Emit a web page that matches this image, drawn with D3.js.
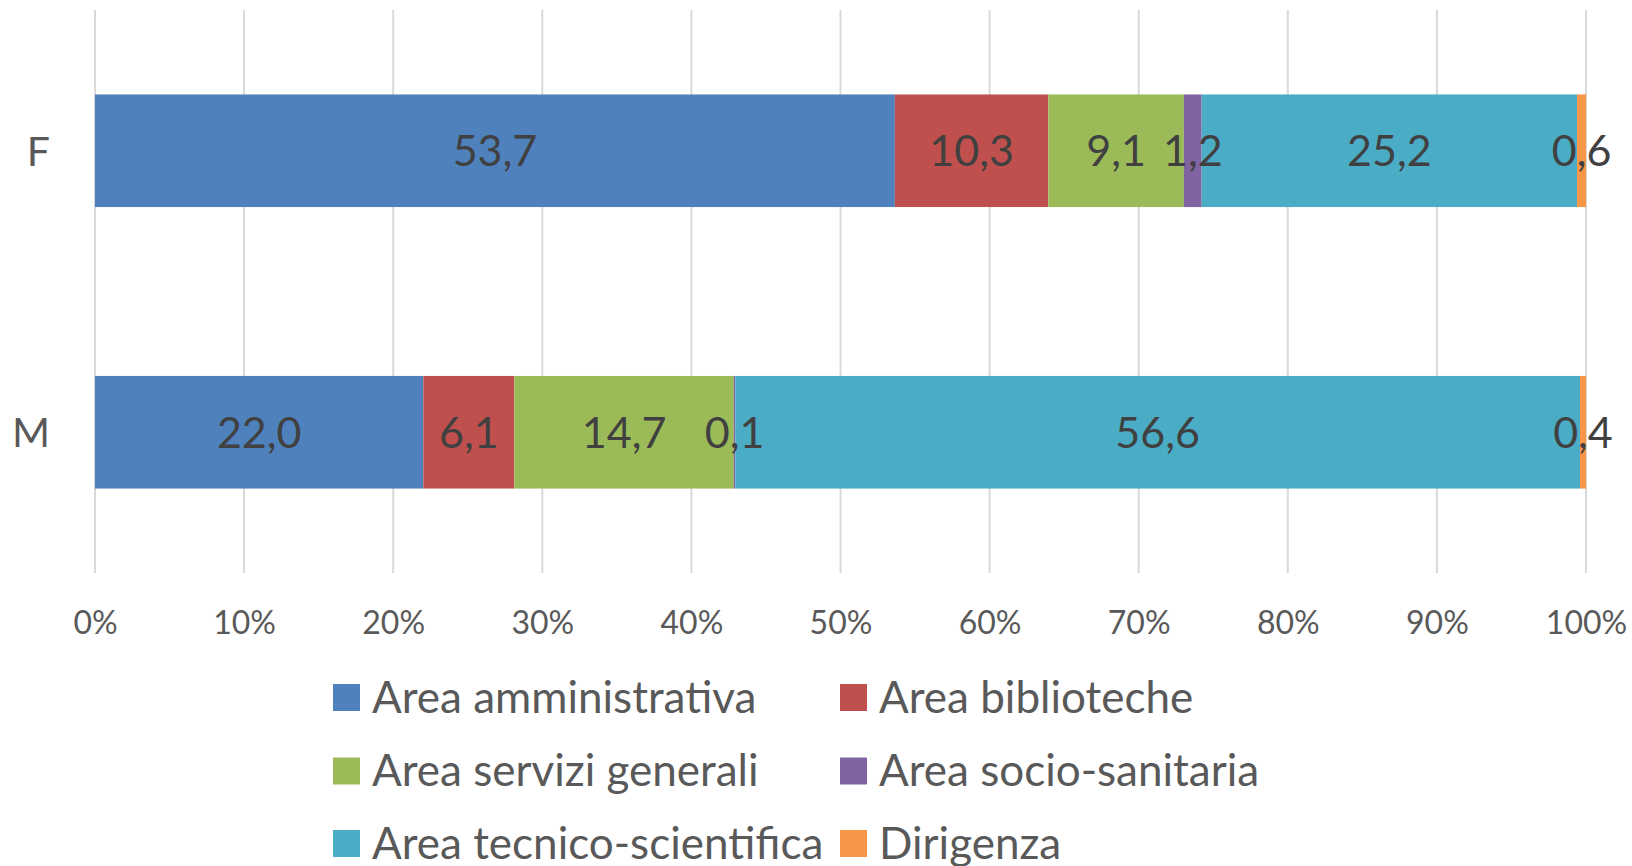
<!DOCTYPE html>
<html>
<head>
<meta charset="utf-8">
<script src="https://cdn.jsdelivr.net/npm/d3@7"></script>
<style>
  body { margin: 0; background: #fff; }
  svg { display: block; font-family: Lato, "Open Sans", sans-serif; }
</style>
</head>
<body>
<div id="chart"></div>
<script>
// data
var categories = ["F", "M"];
var areas = [
  "Area amministrativa",
  "Area biblioteche",
  "Area servizi generali",
  "Area socio-sanitaria",
  "Area tecnico-scientifica",
  "Dirigenza"
];
var valuesF = [53.7, 10.3, 9.1, 1.2, 25.2, 0.6];
var valuesM = [22.0, 6.1, 14.7, 0.1, 56.6, 0.4];
var xTicks = [0, 0.1, 0.2, 0.3, 0.4, 0.5, 0.6, 0.7, 0.8, 0.9, 1];
var colors = ["#4f81bd", "#c0504d", "#9bbb59", "#8064a2", "#4bacc6", "#f79646"];

var width = 1632, height = 866;
var margin = {top: 10, right: 46, bottom: 293, left: 95};

var rows = [valuesF, valuesM].map(function(v, i){
  var r = {cat: categories[i]};
  areas.forEach(function(a, j){ r[a] = v[j]; });
  return r;
});

var series = d3.stack().keys(areas).offset(d3.stackOffsetExpand)(rows);

var x = d3.scaleLinear().domain([0, 1]).range([margin.left, width - margin.right]);
var y = d3.scaleBand().domain(categories)
  .range([margin.top, height - margin.bottom])
  .paddingInner(0.6).paddingOuter(0.3);
var color = d3.scaleOrdinal().domain(areas).range(colors);

var svg = d3.select("#chart").append("svg")
  .attr("width", width).attr("height", height);

// gridlines
svg.append("g")
  .selectAll("line")
  .data(xTicks)
  .enter()
  .append("line")
  .attr("x1", function(d){ return x(d); })
  .attr("x2", function(d){ return x(d); })
  .attr("y1", margin.top)
  .attr("y2", height - margin.bottom)
  .style("stroke", "#d9d9d9")
  .style("stroke-width", 2);

// bars
var layer = svg.append("g")
  .selectAll("g")
  .data(series)
  .enter()
  .append("g")
  .style("fill", function(d){ return color(d.key); });

layer.selectAll("rect")
  .data(function(d){ return d; })
  .enter()
  .append("rect")
  .attr("x", function(d){ return x(d[0]); })
  .attr("y", function(d){ return y(d.data.cat); })
  .attr("width", function(d){ return x(d[1]) - x(d[0]); })
  .attr("height", y.bandwidth());

// data labels
var fmt = function(v){ return v.toFixed(1).replace(".", ","); };
svg.append("g")
  .selectAll("g")
  .data(series)
  .enter()
  .append("g")
  .selectAll("text")
  .data(function(s){
    return s.map(function(d){ return {d: d, v: d.data[s.key]}; });
  })
  .enter()
  .append("text")
  .attr("x", function(o){ return (x(o.d[0]) + x(o.d[1])) / 2; })
  .attr("y", function(o){ return y(o.d.data.cat) + y.bandwidth() / 2; })
  .attr("dy", "0.36em")
  .attr("text-anchor", "middle")
  .style("font-size", "43px")
  .style("fill", "#404040")
  .text(function(o){ return fmt(o.v); });

// category axis
svg.append("g")
  .selectAll("text")
  .data(categories)
  .enter()
  .append("text")
  .attr("x", 50)
  .attr("y", function(d){ return y(d) + y.bandwidth() / 2; })
  .attr("dy", "0.36em")
  .attr("text-anchor", "end")
  .style("font-size", "41px")
  .style("fill", "#595959")
  .text(function(d){ return d; });

// value axis
var xAxis = svg.append("g")
  .attr("transform", "translate(0," + (height - margin.bottom) + ")")
  .call(d3.axisBottom(x).tickValues(xTicks).tickFormat(d3.format(".0%")).tickSize(0).tickPadding(38));
xAxis.select(".domain").remove();
xAxis.selectAll("text")
  .style("font-family", "Lato, 'Open Sans', sans-serif")
  .style("font-size", "32px")
  .style("fill", "#595959");

// legend
var legendX = [333, 840];
var legendY = [697, 770.5, 843];
var legend = svg.append("g")
  .selectAll("g")
  .data(areas)
  .enter()
  .append("g")
  .attr("transform", function(d, i){
    return "translate(" + legendX[i % 2] + "," + legendY[Math.floor(i / 2)] + ")";
  });
legend.append("rect")
  .attr("x", 0).attr("y", -13)
  .attr("width", 27).attr("height", 27)
  .style("fill", function(d){ return color(d); });
legend.append("text")
  .attr("x", 39)
  .attr("dy", "0.36em")
  .style("font-size", "44px")
  .style("fill", "#595959")
  .text(function(d){ return d; });
</script>
</body>
</html>
